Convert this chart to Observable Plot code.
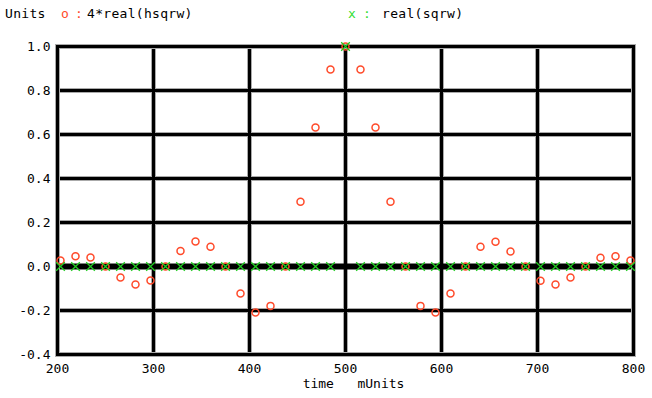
<!DOCTYPE html>
<html>
<head>
<meta charset="utf-8">
<script src="https://cdn.jsdelivr.net/npm/d3@7"></script>
<script src="https://cdn.jsdelivr.net/npm/@observablehq/plot@0.6"></script>
<style>
  html, body { margin: 0; padding: 0; background: #fff; }
  #wrap { position: relative; width: 652px; height: 398px; font-family: "DejaVu Sans Mono", monospace; font-size: 13px; color: #000; }
  .lg { position: absolute; top: 6px; white-space: pre; line-height: 16px; letter-spacing: 0.3px; }
  #chart { position: absolute; left: 0; top: 0; }
</style>
</head>
<body>
<div id="wrap">
  <div id="chart"></div>
  <div class="lg" style="left:5px">Units</div>
  <div class="lg" style="left:61px;color:#ff4a2a">o</div>
  <div class="lg" style="left:75px;color:#ff4a2a">:</div>
  <div class="lg" style="left:87px">4*real(hsqrw)</div>
  <div class="lg" style="left:348px;color:#33dd33">x</div>
  <div class="lg" style="left:363px;color:#33dd33">:</div>
  <div class="lg" style="left:382px">real(sqrw)</div>
</div>
<script>
const time = [203.125, 218.75, 234.375, 250, 265.625, 281.25, 296.875, 312.5, 328.125, 343.75,
  359.375, 375, 390.625, 406.25, 421.875, 437.5, 453.125, 468.75, 484.375, 500,
  515.625, 531.25, 546.875, 562.5, 578.125, 593.75, 609.375, 625, 640.625, 656.25,
  671.875, 687.5, 703.125, 718.75, 734.375, 750, 765.625, 781.25, 796.875];
const hsqrw = [0.027, 0.047, 0.041, 0, -0.05, -0.082, -0.064, 0, 0.07, 0.114,
  0.09, 0, -0.123, -0.209, -0.179, 0, 0.294, 0.632, 0.895, 1.0,
  0.895, 0.632, 0.294, 0, -0.179, -0.209, -0.123, 0, 0.09, 0.113,
  0.068, 0, -0.065, -0.082, -0.05, 0, 0.04, 0.047, 0.027];
const sqrw = [0, 0, 0, 0, 0, 0, 0, 0, 0, 0,
  0, 0, 0, 0, 0, 0, 0, 0, 0, 1,
  0, 0, 0, 0, 0, 0, 0, 0, 0, 0,
  0, 0, 0, 0, 0, 0, 0, 0, 0];
const xTicks = [200, 300, 400, 500, 600, 700, 800];
const yTicks = [-0.4, -0.2, 0.0, 0.2, 0.4, 0.6, 0.8, 1.0];
const xGrid = [300, 400, 500, 600, 700];
const yGrid = [-0.2, 0.2, 0.4, 0.6, 0.8];

const hData = time.map((t, i) => ({t, v: hsqrw[i]}));
const sData = time.map((t, i) => ({t, v: sqrw[i]}));

const chart = Plot.plot({
  width: 652,
  height: 398,
  marginLeft: 57,
  marginRight: 19,
  marginTop: 46,
  marginBottom: 44,
  style: {fontFamily: "DejaVu Sans Mono, monospace", fontSize: "13px", color: "#000", background: "transparent"},
  x: {domain: [200, 800], label: null},
  y: {domain: [-0.4, 1.0], label: null},
  marks: [
    Plot.ruleX(xGrid, {stroke: "#aaa", strokeWidth: 5}),
    Plot.ruleY(yGrid, {stroke: "#aaa", strokeWidth: 5}),
    Plot.ruleX(xGrid, {stroke: "#000", strokeWidth: 3}),
    Plot.ruleY(yGrid, {stroke: "#000", strokeWidth: 3}),
    Plot.ruleY([0], {stroke: "#000", strokeWidth: 6}),
    Plot.frame({stroke: "#aaa", strokeWidth: 5}),
    Plot.frame({stroke: "#000", strokeWidth: 3}),
    Plot.axisX({ticks: xTicks, tickFormat: d => String(d), tickSize: 0, tickPadding: 9, label: null, fontSize: 13}),
    Plot.axisY({ticks: yTicks, tickFormat: d => d.toFixed(1), tickSize: 0, tickPadding: 7, label: null, fontSize: 13}),
    Plot.text(["time   mUnits"], {frameAnchor: "bottom", dx: 8, dy: 33, fontSize: 13, fill: "#000"}),
    Plot.dot(hData, {x: "t", y: "v", symbol: "circle", r: 3.5, stroke: "#ff4a2a", strokeWidth: 1.5, fill: "none"}),
    Plot.dot(sData, {x: "t", y: "v", symbol: "times", r: 4, stroke: "#22cc22", strokeWidth: 1.3})
  ]
});
document.getElementById("chart").appendChild(chart);
</script>
</body>
</html>
